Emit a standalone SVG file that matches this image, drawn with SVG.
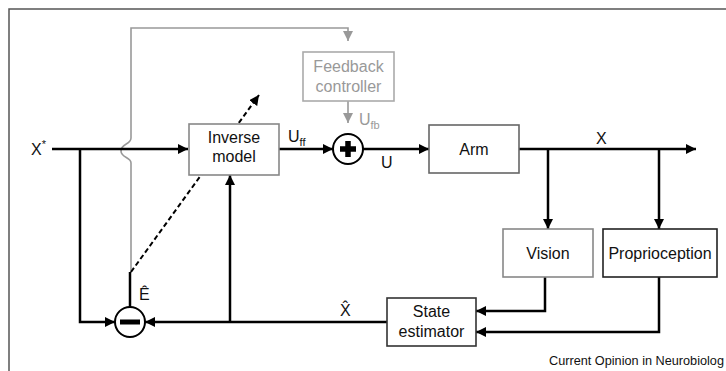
<svg xmlns="http://www.w3.org/2000/svg" width="726" height="371" viewBox="0 0 726 371">
<style>
text{font-family:"Liberation Sans",Arial,sans-serif;font-size:16px;fill:#111}
.box{fill:#fff;stroke-width:1.6}
.ln{fill:none;stroke:#000;stroke-width:2.5}
.gl{fill:none;stroke:#999;stroke-width:1.6}
.sub{font-size:11px}
.c{text-anchor:middle}
</style>
<defs>
<marker id="ah" viewBox="0 0 10 10" refX="10" refY="5" markerWidth="10" markerHeight="10" markerUnits="userSpaceOnUse" orient="auto"><path d="M0,0 L10,5 L0,10 z" fill="#000"/></marker>
<marker id="ahg" viewBox="0 0 10 10" refX="10" refY="5" markerWidth="10" markerHeight="10" markerUnits="userSpaceOnUse" orient="auto"><path d="M0,0 L10,5 L0,10 z" fill="#999"/></marker>
</defs>
<rect width="726" height="371" fill="#fff"/>
<path d="M9,371 V9 H726" fill="none" stroke="#555" stroke-width="1.5"/>

<g id="connectors">
<path class="gl" d="M131,272 V163 C131,157 121,158 121,151 C121,143 131,145 131,138 V28 H348 V41" marker-end="url(#ahg)"/>
<path class="gl" d="M348,101 V123" marker-end="url(#ahg)"/>
<path d="M131,272 L259,95" fill="none" stroke="#000" stroke-width="2" stroke-dasharray="5,3" marker-end="url(#ah)"/>
<path class="ln" d="M52,149 H188" marker-end="url(#ah)"/>
<path class="ln" d="M80,149 V322 H115" marker-end="url(#ah)"/>
<path class="ln" d="M279,149 H333" marker-end="url(#ah)"/>
<path class="ln" d="M363,149 H429" marker-end="url(#ah)"/>
<path class="ln" d="M519,149 H696" marker-end="url(#ah)"/>
<path class="ln" d="M548,149 V229" marker-end="url(#ah)"/>
<path class="ln" d="M659,149 V229" marker-end="url(#ah)"/>
<path class="ln" d="M545,277 V311 H476" marker-end="url(#ah)"/>
<path class="ln" d="M659,277 V332 H476" marker-end="url(#ah)"/>
<path class="ln" d="M387,322 H145" marker-end="url(#ah)"/>
<path class="ln" d="M230,322 V175" marker-end="url(#ah)"/>
<path class="ln" d="M130,307 V272"/>
</g>

<g id="inverse-model">
<rect class="box" x="189" y="124" width="90" height="51" stroke="#888"/>
<text class="c" x="234" y="143">Inverse</text>
<text class="c" x="234" y="162">model</text>
</g>

<g id="feedback-controller">
<rect class="box" x="303" y="52" width="91" height="49" stroke="#aaa"/>
<text class="c" x="348.5" y="72" style="fill:#999">Feedback</text>
<text class="c" x="348.5" y="92" style="fill:#999">controller</text>
</g>

<g id="sum">
<circle cx="348" cy="149" r="15" fill="#fff" stroke="#000" stroke-width="2"/>
<path d="M340,149 H356 M348,141 V157" stroke="#000" stroke-width="5.5"/>
</g>

<g id="arm">
<rect class="box" x="429" y="125" width="90" height="48" stroke="#666"/>
<text class="c" x="474" y="155">Arm</text>
</g>

<g id="vision">
<rect class="box" x="503" y="229" width="90" height="48" stroke="#888"/>
<text class="c" x="548" y="259">Vision</text>
</g>

<g id="proprioception">
<rect class="box" x="603" y="229" width="114" height="48" stroke="#222"/>
<text class="c" x="660" y="259">Proprioception</text>
</g>

<g id="state-estimator">
<rect class="box" x="387" y="298" width="89" height="48" stroke="#333"/>
<text class="c" x="431.5" y="317">State</text>
<text class="c" x="431.5" y="337">estimator</text>
</g>

<g id="diff">
<circle cx="130" cy="322" r="15" fill="#fff" stroke="#000" stroke-width="2"/>
<rect x="120" y="319.5" width="20" height="5" fill="#000"/>
</g>

<g id="labels">
<text x="31" y="155">X<tspan class="sub" dy="-7">*</tspan></text>
<text x="288" y="142">U<tspan class="sub" dy="4">ff</tspan></text>
<text x="359" y="125" style="fill:#999">U<tspan class="sub" dy="4" style="fill:#999">fb</tspan></text>
<text x="381" y="168">U</text>
<text x="596" y="144">X</text>
<text x="139" y="300">Ê</text>
<text x="340" y="316">X̂</text>
<text x="549" y="365" style="font-size:12px" textLength="175" lengthAdjust="spacingAndGlyphs">Current Opinion in Neurobiolog</text>
</g>
</svg>
